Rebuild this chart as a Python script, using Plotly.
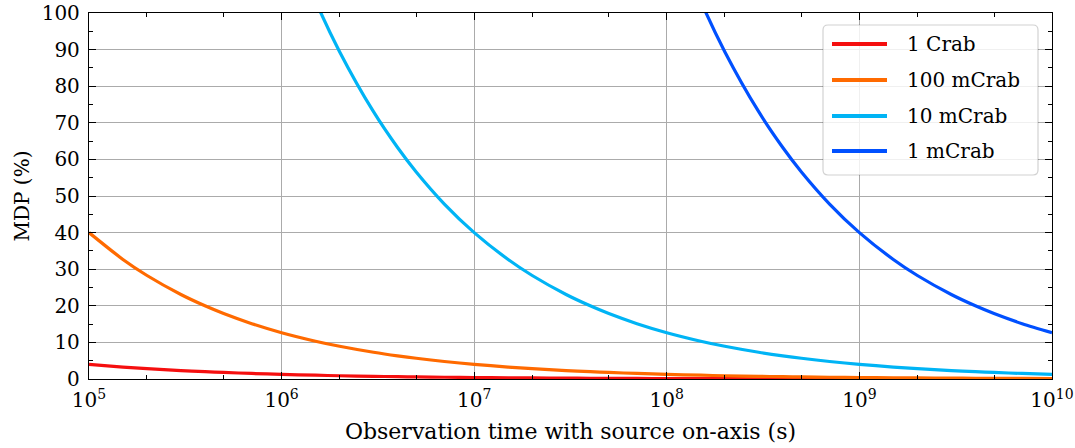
import plotly.graph_objects as go

# Observation times (s) and minimum detectable polarization (%) per source flux
t_all = [1e5, 1.5e5, 2e5, 3e5, 4e5, 5e5, 7e5,
         1e6, 1.5e6, 2e6, 3e6, 4e6, 5e6, 7e6,
         1e7, 1.5e7, 2e7, 3e7, 4e7, 5e7, 7e7,
         1e8, 1.5e8, 2e8, 3e8, 4e8, 5e8, 7e8,
         1e9, 1.5e9, 2e9, 3e9, 4e9, 5e9, 7e9,
         1e10]
mdp_1crab = [4.00, 3.27, 2.83, 2.31, 2.00, 1.79, 1.51,
             1.265, 1.033, 0.894, 0.730, 0.632, 0.566, 0.478,
             0.400, 0.327, 0.283, 0.231, 0.200, 0.179, 0.151,
             0.126, 0.103, 0.089, 0.073, 0.063, 0.057, 0.048,
             0.040, 0.033, 0.028, 0.023, 0.020, 0.018, 0.015,
             0.013]
mdp_100mcrab = [40.00, 32.66, 28.28, 23.09, 20.00, 17.89, 15.12,
                12.65, 10.33, 8.94, 7.30, 6.32, 5.66, 4.78,
                4.00, 3.27, 2.83, 2.31, 2.00, 1.79, 1.51,
                1.265, 1.033, 0.894, 0.730, 0.632, 0.566, 0.478,
                0.400, 0.327, 0.283, 0.231, 0.200, 0.179, 0.151,
                0.126]

t_10mcrab = [1e6, 1.5e6, 2e6, 3e6, 4e6, 5e6, 7e6,
             1e7, 1.5e7, 2e7, 3e7, 4e7, 5e7, 7e7,
             1e8, 1.5e8, 2e8, 3e8, 4e8, 5e8, 7e8,
             1e9, 1.5e9, 2e9, 3e9, 4e9, 5e9, 7e9,
             1e10]
mdp_10mcrab = [126.5, 103.3, 89.44, 73.03, 63.25, 56.57, 47.81,
               40.00, 32.66, 28.28, 23.09, 20.00, 17.89, 15.12,
               12.65, 10.33, 8.94, 7.30, 6.32, 5.66, 4.78,
               4.00, 3.27, 2.83, 2.31, 2.00, 1.79, 1.51,
               1.265]

t_1mcrab = [1e8, 1.5e8, 2e8, 3e8, 4e8, 5e8, 7e8,
            1e9, 1.5e9, 2e9, 3e9, 4e9, 5e9, 7e9,
            1e10]
mdp_1mcrab = [126.5, 103.3, 89.44, 73.03, 63.25, 56.57, 47.81,
              40.00, 32.66, 28.28, 23.09, 20.00, 17.89, 15.12,
              12.65]

series = [
    ("1 Crab", t_all, mdp_1crab, "#f50f0f"),
    ("100 mCrab", t_all, mdp_100mcrab, "#ff6a00"),
    ("10 mCrab", t_10mcrab, mdp_10mcrab, "#00b4f5"),
    ("1 mCrab", t_1mcrab, mdp_1mcrab, "#0050ff"),
]

x_tickvals = [1e5, 1e6, 1e7, 1e8, 1e9, 1e10]
x_ticktext = ["10<sup>5</sup>", "10<sup>6</sup>", "10<sup>7</sup>",
              "10<sup>8</sup>", "10<sup>9</sup>", "10<sup>10</sup>"]
y_tickvals = [0, 10, 20, 30, 40, 50, 60, 70, 80, 90, 100]

FONT = "DejaVu Serif"
FS = 20
LINE_W = 3.2

# Figure geometry (px)
W, H = 1075, 448
ML, MR, MT, MB = 89, 23, 13, 69
PW, PH = W - ML - MR, H - MT - MB


def px_to_paper(px, py):
    return (px - ML) / PW, (H - MB - py) / PH


fig = go.Figure()
for name, t, mdp, color in series:
    fig.add_trace(go.Scatter(
        x=t, y=mdp, mode="lines", name=name, showlegend=False,
        line=dict(color=color, width=LINE_W, shape="spline", smoothing=0.8),
    ))

axis_common = dict(
    showline=True, linecolor="black", linewidth=1.3, mirror="allticks",
    ticks="inside", ticklen=7, tickwidth=1.3, tickcolor="black",
    showgrid=True, gridcolor="#ababab", gridwidth=1.3,
    zeroline=False, automargin=False,
    tickfont=dict(family=FONT, size=FS, color="black"),
)

fig.update_xaxes(
    type="log", range=[5, 10], tickvals=x_tickvals, ticktext=x_ticktext,
    title_text="Observation time with source on-axis (s)", title_standoff=12,
    title_font=dict(family=FONT, size=22, color="black"),
    ticklabelstandoff=3,
    minor=dict(ticks="inside", ticklen=4, tickwidth=1.1, tickcolor="black",
               showgrid=False),
    **axis_common,
)
fig.update_yaxes(
    range=[0, 100], tickvals=y_tickvals, title_text="MDP (%)", title_standoff=6,
    title_font=dict(family=FONT, size=FS, color="black"),
    ticklabelstandoff=4,
    minor=dict(ticks="inside", ticklen=4, tickwidth=1.1, tickcolor="black",
               dtick=5, showgrid=False),
    **axis_common,
)

# Legend panel: rounded box, line samples and labels
bx0, by0 = px_to_paper(823, 175)
bx1, by1 = px_to_paper(1038, 25)
rx, ry = 5 / PW, 5 / PH
box_path = (
    f"M {bx0 + rx},{by0} L {bx1 - rx},{by0} Q {bx1},{by0} {bx1},{by0 + ry} "
    f"L {bx1},{by1 - ry} Q {bx1},{by1} {bx1 - rx},{by1} "
    f"L {bx0 + rx},{by1} Q {bx0},{by1} {bx0},{by1 - ry} "
    f"L {bx0},{by0 + ry} Q {bx0},{by0} {bx0 + rx},{by0} Z"
)
shapes = [dict(type="path", path=box_path, xref="paper", yref="paper",
               fillcolor="rgba(255,255,255,0.82)",
               line=dict(color="rgba(0,0,0,0.18)", width=1.2), layer="above")]
annotations = []
row_y = [44, 80, 116, 151]
for (name, _, _, color), ry_px in zip(series, row_y):
    lx0, ly = px_to_paper(832, ry_px)
    lx1, _ = px_to_paper(887, ry_px)
    shapes.append(dict(type="line", xref="paper", yref="paper",
                       x0=lx0, x1=lx1, y0=ly, y1=ly, layer="above",
                       line=dict(color=color, width=LINE_W + 0.6)))
    tx, _ = px_to_paper(905, ry_px)
    annotations.append(dict(x=tx, y=ly, xref="paper", yref="paper",
                            text=name, showarrow=False, xanchor="left",
                            yanchor="middle",
                            font=dict(family=FONT, size=FS, color="black")))

fig.update_layout(
    width=W, height=H,
    margin=dict(l=ML, r=MR, t=MT, b=MB),
    plot_bgcolor="white", paper_bgcolor="white",
    font=dict(family=FONT, size=FS, color="black"),
    shapes=shapes, annotations=annotations,
    showlegend=False,
)

fig.write_html("out.html")
